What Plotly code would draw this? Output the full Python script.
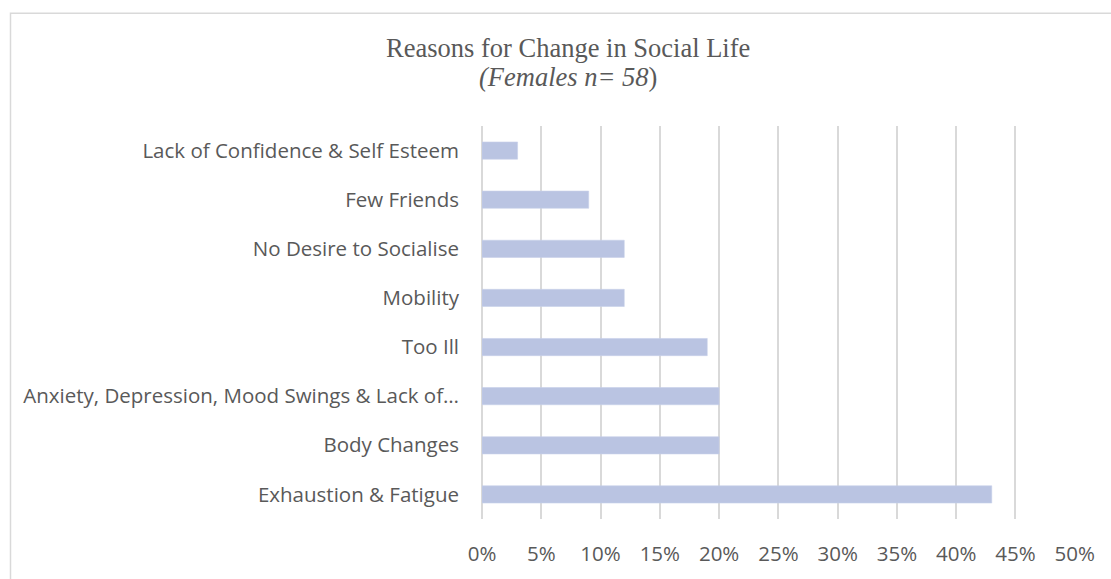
import plotly.graph_objects as go

# Reasons listed top to bottom, share of respondents (%)
reasons = [
    "Lack of Confidence & Self Esteem",
    "Few Friends",
    "No Desire to Socialise",
    "Mobility",
    "Too Ill",
    "Anxiety, Depression, Mood Swings & Lack of…",
    "Body Changes",
    "Exhaustion & Fatigue",
]
percent = [3, 9, 12, 12, 19, 20, 20, 43]

x_ticks = list(range(0, 55, 5))
x_tick_text = [f"{v}%" for v in x_ticks]

W, H = 1111, 579
L, R, T, B = 482, 36, 126, 54
pw, ph = W - L - R, H - T - B

TEXT = "#595959"
GRID = "#d9d9d9"
BAR = "#bac4e2"


def px_x(px):
    return (px - L) / pw


def px_y(py):
    return (H - B - py) / ph


fig = go.Figure(
    go.Bar(
        x=percent,
        y=reasons,
        orientation="h",
        width=0.35,
        marker=dict(color=BAR, line=dict(color="#c8d0ea", width=0.6)),
        hovertemplate="%{y}: %{x}%<extra></extra>",
    )
)

fig.update_layout(
    width=W,
    height=H,
    margin=dict(l=L, r=R, t=T, b=B),
    paper_bgcolor="white",
    plot_bgcolor="white",
    showlegend=False,
    font=dict(family="Open Sans", size=20.5, color=TEXT),
    xaxis=dict(
        range=[0, 50.02],
        tickmode="array",
        tickvals=x_ticks,
        ticktext=x_tick_text,
        showgrid=True,
        gridcolor=GRID,
        gridwidth=1.5,
        zeroline=True,
        zerolinecolor=GRID,
        zerolinewidth=1.5,
        showline=False,
        ticks="",
        ticklabelstandoff=20,
        tickfont=dict(family="Open Sans", size=20.5, color=TEXT),
    ),
    yaxis=dict(
        categoryorder="array",
        categoryarray=reasons,
        autorange="reversed",
        showgrid=False,
        zeroline=False,
        showline=False,
        ticks="",
        ticklabelstandoff=22,
        tickfont=dict(family="Open Sans", size=20.5, color=TEXT),
    ),
    annotations=[
        dict(
            text="Reasons for Change in Social Life",
            xref="paper", yref="paper",
            x=px_x(568), y=px_y(47),
            xanchor="center", yanchor="middle",
            showarrow=False,
            font=dict(family="Liberation Serif", size=26.5, color=TEXT),
        ),
        dict(
            text="<i>(Females n= 58</i>)",
            xref="paper", yref="paper",
            x=px_x(568), y=px_y(76),
            xanchor="center", yanchor="middle",
            showarrow=False,
            font=dict(family="Liberation Serif", size=26.5, color=TEXT),
        ),
    ],
    shapes=[
        dict(
            type="rect",
            xref="paper", yref="paper",
            x0=px_x(10.5), x1=px_x(1140),
            y0=px_y(620), y1=px_y(11.5),
            line=dict(color=GRID, width=1.5),
            fillcolor="rgba(0,0,0,0)",
            layer="below",
        )
    ],
)

fig.write_html("out.html")
